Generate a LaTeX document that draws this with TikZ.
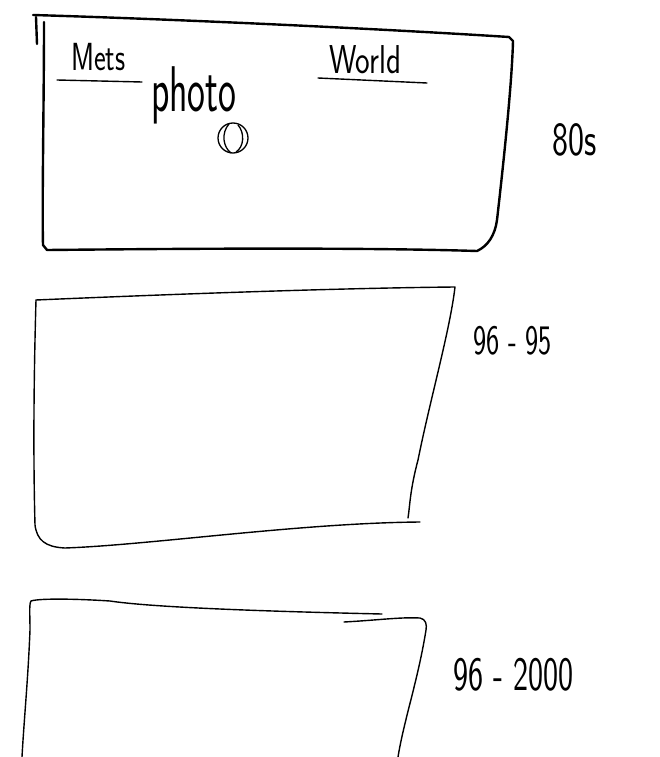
\documentclass[tikz,border=0pt]{standalone}
\begin{document}
\begin{tikzpicture}[x=1pt,y=-1pt,
  pen/.style={line width=1.4pt, line cap=round, line join=round},
  thickpen/.style={line width=2.4pt, line cap=round, line join=round},
  hand/.style={inner sep=0pt, anchor=base west}]
\useasboundingbox (0,0) rectangle (659,757);
% box 1
\draw[thickpen] (44,22) .. controls (44,100) and (42,200) .. (43,245) -- (47,250)
  .. controls (150,249) and (350,247) .. (477,251)
  .. controls (488,246) and (495,235) .. (497,220)
  .. controls (505,150) and (512,80) .. (513,41) -- (509,37)
  .. controls (400,30) and (200,20) .. (33,15);
\draw[thickpen] (36,17) -- (37,44);
% box 2
\draw[pen] (36,300) .. controls (200,293) and (350,288) .. (455,287)
  .. controls (450,330) and (430,400) .. (418,460)
  .. controls (410,490) and (410,505) .. (408,518);
\draw[pen] (420,522) .. controls (300,523) and (150,545) .. (65,548)
  .. controls (45,547) and (37,540) .. (35,525)
  .. controls (33,450) and (34,370) .. (36,300);
% box 3
\draw[pen] (382,614) .. controls (250,611) and (150,607) .. (110,601)
  .. controls (80,599) and (40,598) .. (31,601)
  .. controls (29,604) and (30,615) .. (30,630)
  .. controls (28,680) and (24,720) .. (22,757);
\draw[pen] (344,622) .. controls (380,620) and (400,617) .. (420,618)
  .. controls (426,619) and (427,625) .. (426,630)
  .. controls (418,680) and (404,720) .. (398,757);
% texts
\node[hand, font=\sffamily\fontsize{28}{28}\selectfont] (mets) at (71,71) {\scalebox{1}[1.4]{Mets}};
\draw[pen] (57,80) -- (142,82);
\node[hand, font=\sffamily\fontsize{38}{38}\selectfont] (photo) at (151,112) {\scalebox{1}[1.7]{photo}};
\node[hand, font=\sffamily\fontsize{31}{31}\selectfont] (world) at (329,74) {\scalebox{1}[1.3]{World}};
\draw[pen] (318,78) -- (427,83);
\node[hand, font=\sffamily\fontsize{34}{34}\selectfont] (eighties) at (552,155) {\scalebox{1}[1.4]{80s}};
\node[hand, font=\sffamily\fontsize{28}{28}\selectfont] (d1) at (473,354) {\scalebox{1}[1.5]{96 - 95}};
\node[hand, font=\sffamily\fontsize{32}{32}\selectfont] (d2) at (453,690) {\scalebox{1}[1.5]{96 - 2000}};
% ball
\coordinate (ball) at (233,138);
\draw[line width=1.3pt] (ball) circle[radius=15pt];
\draw[line width=1.3pt] (229,124) .. controls (221,133) and (223,147) .. (231,153);
\draw[line width=1.3pt] (238,125) .. controls (245,133) and (244,147) .. (236,152);
\end{tikzpicture}
\end{document}
